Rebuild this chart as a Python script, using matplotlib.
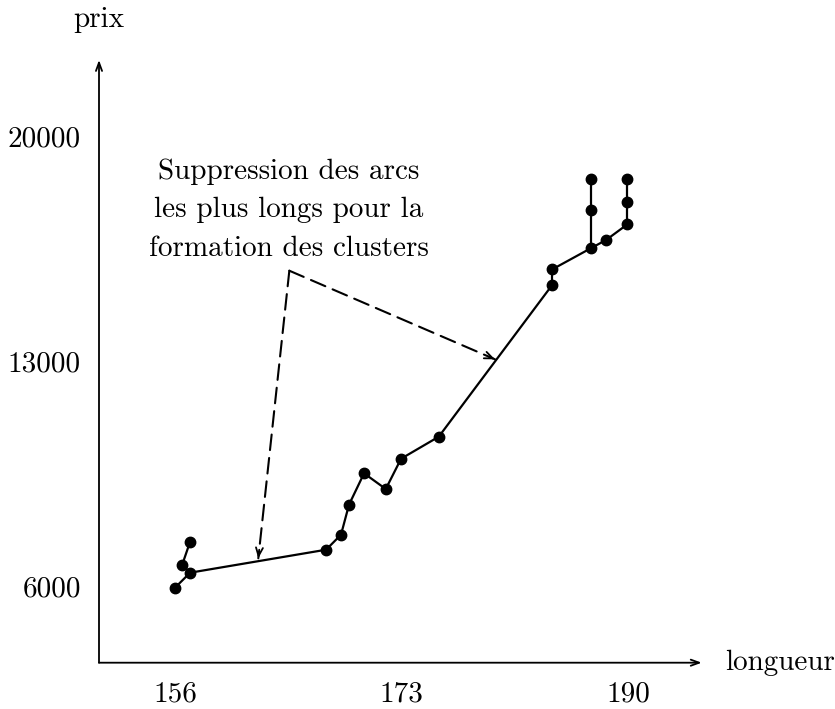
import matplotlib
matplotlib.use("Agg")
import matplotlib.pyplot as plt

plt.rcParams['font.family'] = ['cmr10', 'DejaVu Serif']
plt.rcParams['mathtext.fontset'] = 'cm'
plt.rcParams['axes.formatter.use_mathtext'] = True

# node coordinates (longueur, prix)
longueur = [156.0, 157.13, 156.53, 157.13,
            167.34, 168.46, 169.06, 170.19, 171.82, 172.97, 175.80,
            184.33, 184.33, 187.21, 187.21, 187.21, 188.36, 189.96, 189.96, 189.96]
prix = [5970, 6436, 6675, 7400,
        7151, 7618, 8551, 9528, 9039, 9982, 10667,
        15395, 15875, 16528, 17719, 18688, 16786, 17274, 17977, 18674]

# edges of the spanning tree (index pairs)
edges = [(0, 1), (1, 2), (2, 3),
         (1, 4),
         (4, 5), (5, 6), (6, 7), (7, 8), (8, 9), (9, 10),
         (10, 11),
         (11, 12), (12, 13), (13, 14), (14, 15), (13, 16), (16, 17), (17, 18), (18, 19)]

xtick_vals = [156, 173, 190]
ytick_vals = [6000, 13000, 20000]

annot_text = "Suppression des arcs\nles plus longs pour la\nformation des clusters"

FS = 21

fig = plt.figure(figsize=(8.35, 7.09), dpi=100)
ax = fig.add_axes([99/835, 1-662.7/709, (701.7-99)/835, (662.7-60)/709])
ax.set_xlim(150.29, 195.54)
ax.set_ylim(3636, 22386)
for s in ax.spines.values():
    s.set_visible(False)

# axes with arrows
arrow_kw = dict(arrowstyle='->,head_length=0.6,head_width=0.22', lw=1.3, color='black',
                shrinkA=0, shrinkB=0)
ax.annotate('', xy=(1, 0), xytext=(0, 0), xycoords='axes fraction', arrowprops=arrow_kw)
ax.annotate('', xy=(0, 1), xytext=(0, 0), xycoords='axes fraction', arrowprops=arrow_kw)

ax.set_xticks(xtick_vals)
ax.set_xticklabels([str(v) for v in xtick_vals])
ax.set_yticks(ytick_vals)
ax.set_yticklabels([str(v) for v in ytick_vals])
ax.tick_params(axis='both', length=0, labelsize=FS)
ax.tick_params(axis='x', pad=13)
ax.tick_params(axis='y', pad=13)

fig.text(99/835, 1-20/709, "prix", ha='center', va='center', fontsize=FS)
fig.text(725/835, 1-662.7/709, "longueur", ha='left', va='center', fontsize=FS)

# edges
for a, b in edges:
    ax.plot([longueur[a], longueur[b]], [prix[a], prix[b]], color='black', lw=1.6,
            solid_capstyle='round', zorder=2, clip_on=False)
ax.plot(longueur, prix, 'o', color='black', ms=7.5, zorder=3, clip_on=False)

# annotation
apex = (164.58, 15831)
ends = [(162.25, 6883), (180.02, 13074)]
for e in ends:
    ax.annotate('', xy=e, xytext=apex,
                arrowprops=dict(arrowstyle='-', linestyle=(0, (7.5, 3.8)), lw=1.5,
                                color='black', shrinkA=0, shrinkB=0))
    ax.annotate('', xy=e, xytext=(apex[0] + (e[0] - apex[0]) * 0.97,
                                  apex[1] + (e[1] - apex[1]) * 0.97),
                arrowprops=dict(arrowstyle='->,head_length=0.6,head_width=0.25',
                                lw=1.3, color='black', shrinkA=0, shrinkB=0))
ax.text(164.56, 17719, annot_text, ha='center', va='center', fontsize=FS,
        linespacing=1.6)

fig.savefig("out.png", dpi=100)
